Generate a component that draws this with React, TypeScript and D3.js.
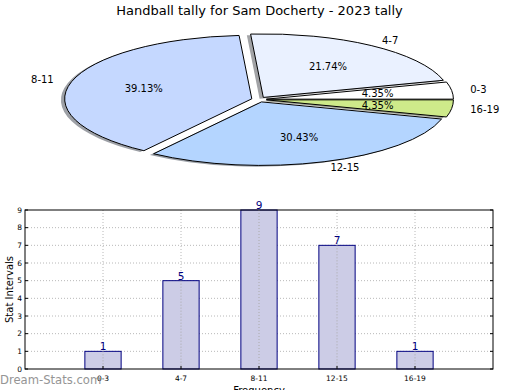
import { useRef, useEffect } from 'react';
import * as d3 from 'd3';

// chart data
const categories = ['0-3', '4-7', '8-11', '12-15', '16-19'];
const counts = [1, 5, 9, 7, 1];
const sliceColors = ['#ffffff', '#eaf1ff', '#c5d8ff', '#b4d5ff', '#ceea8a'];
const yTicks = [0, 1, 2, 3, 4, 5, 6, 7, 8, 9];

const W = 520;
const H = 390;
const font = 'DejaVu Sans, sans-serif';

export default function App() {
  const svgRef = useRef<SVGSVGElement>(null);

  useEffect(() => {
    const svg = d3.select(svgRef.current);
    svg.selectAll('*').remove();

    svg.append('rect').attr('width', W).attr('height', H).attr('fill', '#fff');

    // title
    svg.append('text')
      .attr('x', 259.5).attr('y', 15)
      .attr('text-anchor', 'middle')
      .attr('font-family', font).attr('font-size', 13)
      .text('Handball tally for Sam Docherty - 2023 tally');

    // ---- pie (squashed to an ellipse, every wedge exploded a little) ----
    const cx = 259, cy = 99.5, rx = 187, ry = 63.5;
    const explode = 0.04;

    const pie = d3.pie<number>().sort(null)
      .startAngle(Math.PI / 2)
      .endAngle(Math.PI / 2 - 2 * Math.PI);
    const arcs = pie(counts);
    const unitArc = d3.arc<any>().innerRadius(0).outerRadius(1);
    const total = d3.sum(counts);

    const slices = arcs.map((a, i) => {
      const mid = (a.startAngle + a.endAngle) / 2;
      const dx = Math.sin(mid), dy = -Math.cos(mid);
      return { a, i, dx, dy, ox: cx + explode * dx * rx, oy: cy + explode * dy * ry };
    });

    const pieG = svg.append('g');
    // shadows first
    pieG.selectAll('path.shadow')
      .data(slices)
      .enter()
      .append('path')
      .attr('class', 'shadow')
      .attr('d', d => unitArc(d.a))
      .attr('transform', d => `translate(${d.ox - 0.02 * rx}, ${d.oy + 0.02 * ry}) scale(${rx}, ${ry})`)
      .attr('fill', d => {
        const c = d3.rgb(sliceColors[d.i]);
        return d3.rgb(c.r * 0.3, c.g * 0.3, c.b * 0.3).toString();
      })
      .attr('stroke', 'none')
      .attr('opacity', 0.5);

    pieG.selectAll('path.wedge')
      .data(slices)
      .enter()
      .append('path')
      .attr('class', 'wedge')
      .attr('d', d => unitArc(d.a))
      .attr('transform', d => `translate(${d.ox}, ${d.oy}) scale(${rx}, ${ry})`)
      .attr('fill', d => sliceColors[d.i])
      .attr('stroke', '#000')
      .attr('stroke-width', 1)
      .attr('vector-effect', 'non-scaling-stroke');

    // category labels
    pieG.selectAll('text.lab')
      .data(slices)
      .enter()
      .append('text')
      .attr('x', d => d.ox + 1.1 * d.dx * rx)
      .attr('y', d => d.oy + 1.1 * d.dy * ry)
      .attr('dy', '0.35em')
      .attr('text-anchor', d => (d.dx > 0 ? 'start' : 'end'))
      .attr('font-family', font).attr('font-size', 10)
      .text(d => categories[d.i]);

    // percentages
    pieG.selectAll('text.pct')
      .data(slices)
      .enter()
      .append('text')
      .attr('x', d => d.ox + 0.6 * d.dx * rx)
      .attr('y', d => d.oy + 0.6 * d.dy * ry)
      .attr('dy', '0.35em')
      .attr('text-anchor', 'middle')
      .attr('font-family', font).attr('font-size', 10)
      .text(d => (100 * counts[d.i] / total).toFixed(2) + '%');

    // ---- bar chart ----
    const left = 25, right = 493, top = 210, bottom = 369;
    const x = d3.scaleLinear().domain([-1, categories.length]).range([left, right]);
    const y = d3.scaleLinear().domain([0, 9]).range([bottom, top]);
    const barW = (x(1) - x(0)) * 0.465;

    const barG = svg.append('g');

    // grid
    barG.selectAll('line.hgrid')
      .data(yTicks.slice(1, -1))
      .enter()
      .append('line')
      .attr('x1', left).attr('x2', right)
      .attr('y1', d => y(d)).attr('y2', d => y(d))
      .attr('stroke', '#b8b8b8').attr('stroke-width', 1)
      .attr('stroke-dasharray', '1,2');
    barG.selectAll('line.vgrid')
      .data(categories.map((_, i) => i))
      .enter()
      .append('line')
      .attr('x1', d => x(d)).attr('x2', d => x(d))
      .attr('y1', top).attr('y2', bottom)
      .attr('stroke', '#b8b8b8').attr('stroke-width', 1)
      .attr('stroke-dasharray', '1,2');

    // bars
    barG.selectAll('rect.bar')
      .data(counts)
      .enter()
      .append('rect')
      .attr('x', (d, i) => x(i) - barW / 2)
      .attr('y', d => y(d))
      .attr('width', barW)
      .attr('height', d => y(0) - y(d))
      .attr('fill', '#cccce6')
      .attr('stroke', '#000080')
      .attr('stroke-width', 1);

    // the grid shows through the bars in the original
    barG.selectAll('line.vgrid2')
      .data(categories.map((_, i) => i))
      .enter()
      .append('line')
      .attr('x1', d => x(d)).attr('x2', d => x(d))
      .attr('y1', d => y(counts[d])).attr('y2', bottom)
      .attr('stroke', '#aaaaaa').attr('stroke-width', 1)
      .attr('stroke-dasharray', '1,2');

    // value labels
    barG.selectAll('text.val')
      .data(counts)
      .enter()
      .append('text')
      .attr('x', (d, i) => x(i))
      .attr('y', d => y(d) - 1)
      .attr('text-anchor', 'middle')
      .attr('font-family', font).attr('font-size', 10.5)
      .attr('fill', '#000080')
      .text(d => d);

    // frame
    barG.append('rect')
      .attr('x', left).attr('y', top)
      .attr('width', right - left).attr('height', bottom - top)
      .attr('fill', 'none').attr('stroke', '#000').attr('stroke-width', 1);

    // ticks, pointing inward
    barG.selectAll('line.ytl')
      .data(yTicks)
      .enter()
      .append('line')
      .attr('x1', left).attr('x2', left + 3)
      .attr('y1', d => y(d)).attr('y2', d => y(d))
      .attr('stroke', '#000');
    barG.selectAll('line.ytr')
      .data(yTicks)
      .enter()
      .append('line')
      .attr('x1', right - 3).attr('x2', right)
      .attr('y1', d => y(d)).attr('y2', d => y(d))
      .attr('stroke', '#000');
    barG.selectAll('line.xtb')
      .data(categories.map((_, i) => i))
      .enter()
      .append('line')
      .attr('x1', d => x(d)).attr('x2', d => x(d))
      .attr('y1', bottom - 3).attr('y2', bottom)
      .attr('stroke', '#000');

    // tick labels
    barG.selectAll('text.ytick')
      .data(yTicks)
      .enter()
      .append('text')
      .attr('x', left - 3)
      .attr('y', d => y(d))
      .attr('dy', '0.35em')
      .attr('text-anchor', 'end')
      .attr('font-family', font).attr('font-size', 7.5)
      .text(d => d);
    barG.selectAll('text.xtick')
      .data(categories)
      .enter()
      .append('text')
      .attr('x', (d, i) => x(i))
      .attr('y', bottom + 11.5)
      .attr('text-anchor', 'middle')
      .attr('font-family', font).attr('font-size', 7.5)
      .text(d => d);

    // axis titles
    svg.append('text')
      .attr('transform', `translate(12.5, ${(top + bottom) / 2}) rotate(-90)`)
      .attr('text-anchor', 'middle')
      .attr('font-family', font).attr('font-size', 10)
      .text('Stat Intervals');
    svg.append('text')
      .attr('x', (left + right) / 2)
      .attr('y', 393.5)
      .attr('text-anchor', 'middle')
      .attr('font-family', font).attr('font-size', 10)
      .text('Frequency');

    // watermark
    svg.append('text')
      .attr('x', 0).attr('y', 384)
      .attr('font-family', font).attr('font-size', 11.6)
      .attr('fill', '#8a8a8a')
      .attr('opacity', 0.9)
      .text('Dream-Stats.com');
  }, []);

  return (
    <svg
      ref={svgRef}
      width={W}
      height={H}
      style={{ position: 'fixed', left: 0, top: 0, display: 'block' }}
    />
  );
}
